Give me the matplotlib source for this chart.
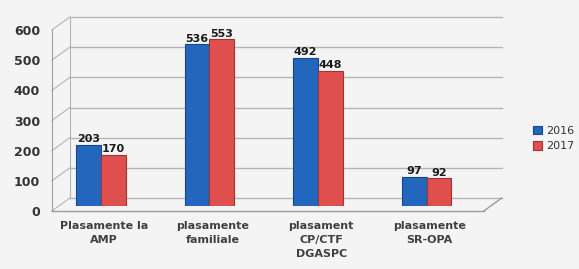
import matplotlib.pyplot as plt
import matplotlib.transforms as mtransforms
import numpy as np

categories = ["Plasamente la\nAMP", "plasamente\nfamiliale", "plasament\nCP/CTF\nDGASPC", "plasamente\nSR-OPA"]
vals_2016 = [203, 536, 492, 97]
vals_2017 = [170, 553, 448, 92]
years = ["2016", "2017"]
yticks = [0, 100, 200, 300, 400, 500, 600]

plt.rcParams['font.family'] = ['DejaVu Sans']

fig = plt.figure(figsize=(5.79, 2.69), dpi=100)
fig.patch.set_facecolor('#f4f4f4')
ax = fig.add_axes([0.105, 0.234, 0.746, 0.673])
ax.set_facecolor('none')
x0, x1 = -0.37, 3.61
ax.set_xlim(x0, x1)
ax.set_ylim(0, 600)
for s in ax.spines.values():
    s.set_visible(False)

# pseudo 3d: back wall and front edge offsets (in pixels)
back = ax.transData + mtransforms.ScaledTranslation(9 / 100, 8 / 100, fig.dpi_scale_trans)
front = ax.transData + mtransforms.ScaledTranslation(-9 / 100, -5 / 100, fig.dpi_scale_trans)

grid_c = '#b4b4b4'
for v in yticks:
    ax.plot([x0, x1], [v, v], transform=back, color=grid_c, lw=1.0, zorder=0, clip_on=False)
    # left wall diagonals
    p_front = front.transform((x0, v))
    p_back = back.transform((x0, v))
    ax.plot([p_front[0], p_back[0]], [p_front[1], p_back[1]], transform=None,
            color=grid_c, lw=0.8, zorder=0, clip_on=False)
ax.plot([x0, x0], [0, 600], transform=back, color=grid_c, lw=0.8, zorder=0, clip_on=False)
ax.plot([x0, x0], [0, 600], transform=front, color='#a0a0a0', lw=0.8, zorder=0, clip_on=False)
# floor
ax.plot([x0, x1], [0, 0], transform=front, color='#9a9a9a', lw=1.0, zorder=0, clip_on=False)
pf = front.transform((x1, 0))
pb = back.transform((x1, 0))
ax.plot([pf[0], pb[0]], [pf[1], pb[1]], transform=None, color='#9a9a9a', lw=1.0, zorder=0,
        clip_on=False)

x = np.arange(len(categories))
w = 0.23
b1 = ax.bar(x - w / 2, vals_2016, w, color='#2266bd', edgecolor='#16478a', lw=0.8, zorder=2, label=years[0])
b2 = ax.bar(x + w / 2, vals_2017, w, color='#de4f4e', edgecolor='#a33232', lw=0.8, zorder=2, label=years[1])
for xs, vals in [(x - w / 2, vals_2016), (x + w / 2, vals_2017)]:
    for xi, v in zip(xs, vals):
        ax.text(xi, v + 2, str(v), ha='center', va='bottom', fontsize=8, fontweight='bold',
                color='#1a1a1a', zorder=3)

ax.set_yticks(yticks)
ax.set_yticklabels([str(v) for v in yticks], fontsize=9, fontweight='bold', color='#333333')
ax.tick_params(axis='y', length=0, pad=15)
for lab in ax.get_yticklabels():
    lab.set_transform(lab.get_transform() + mtransforms.ScaledTranslation(0, -5 / 100, fig.dpi_scale_trans))

ax.set_xticks(x + 0.03)
ax.set_xticklabels(categories, fontsize=8, fontweight='bold', color='#404040', linespacing=1.45)
ax.tick_params(axis='x', length=0, pad=11)

fig.legend(handles=[b1, b2], labels=years, loc='center left', bbox_to_anchor=(0.903, 0.485),
           frameon=False, fontsize=8, handlelength=0.8, handleheight=0.8, handletextpad=0.4,
           labelspacing=0.5, labelcolor='#333333')

fig.savefig('out.png', dpi=100, facecolor=fig.get_facecolor())
